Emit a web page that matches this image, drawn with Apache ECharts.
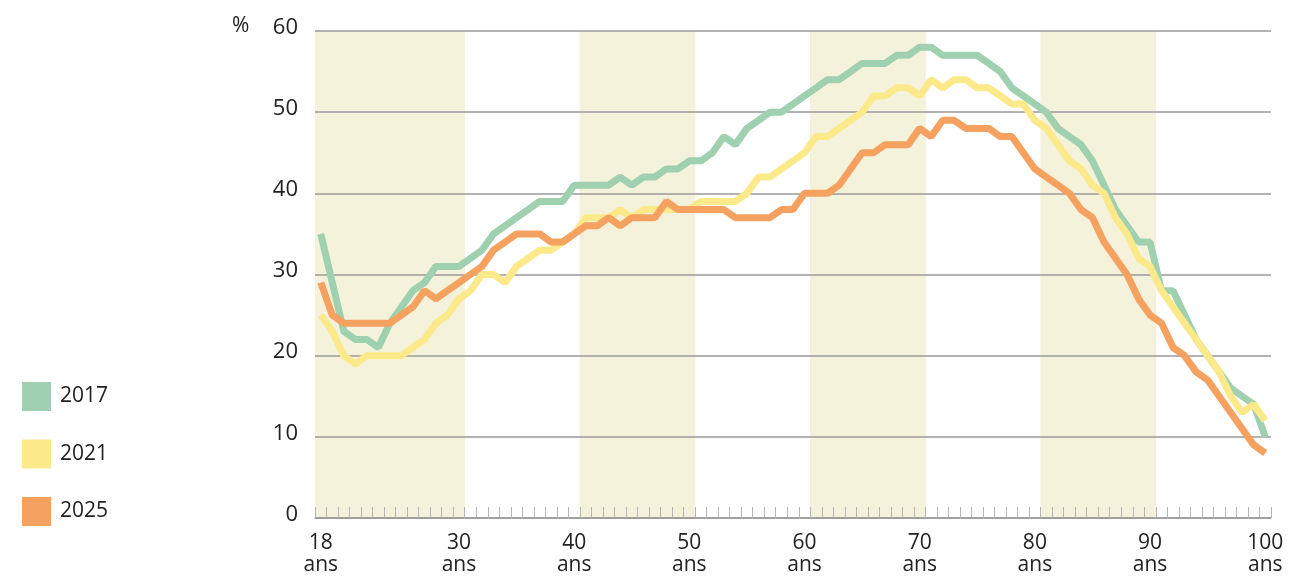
<!DOCTYPE html>
<html>
<head>
<meta charset="utf-8">
<title>Part par âge</title>
<script src="https://cdn.jsdelivr.net/npm/echarts@6/dist/echarts.min.js"></script>
<style>
  html, body { margin: 0; padding: 0; background: #fff; }
  #chart { width: 1297px; height: 576px; }
</style>
</head>
<body>
<div id="chart"></div>
<script>
// ages 18 -> 100, one point per year
const ages = [];
for (let a = 18; a <= 100; a++) ages.push(String(a));

const shownAges = ["18", "30", "40", "50", "60", "70", "80", "90", "100"];
const yTicks = [0, 10, 20, 30, 40, 50, 60];
// shaded decades (inclusive)
const bandRanges = [[18, 30], [41, 50], [61, 70], [81, 90]];

const v2017 = [
  35, 29, 23, 22, 22, 21, 24, 26, 28, 29,   // 18-27
  31, 31, 31, 32, 33, 35, 36, 37, 38, 39,   // 28-37
  39, 39, 41, 41, 41, 41, 42, 41, 42, 42,   // 38-47
  43, 43, 44, 44, 45, 47, 46, 48, 49, 50,   // 48-57
  50, 51, 52, 53, 54, 54, 55, 56, 56, 56,   // 58-67
  57, 57, 58, 58, 57, 57, 57, 57, 56, 55,   // 68-77
  53, 52, 51, 50, 48, 47, 46, 44, 41, 38,   // 78-87
  36, 34, 34, 28, 28, 25, 22, 20, 18, 16,   // 88-97
  15, 14, 10                                // 98-100
];
const v2021 = [
  25, 23, 20, 19, 20, 20, 20, 20, 21, 22,
  24, 25, 27, 28, 30, 30, 29, 31, 32, 33,
  33, 34, 35, 37, 37, 37, 38, 37, 38, 38,
  38, 38, 38, 39, 39, 39, 39, 40, 42, 42,
  43, 44, 45, 47, 47, 48, 49, 50, 52, 52,
  53, 53, 52, 54, 53, 54, 54, 53, 53, 52,
  51, 51, 49, 48, 46, 44, 43, 41, 40, 37,
  35, 32, 31, 28, 26, 24, 22, 20, 18, 15,
  13, 14, 12
];
const v2025 = [
  29, 25, 24, 24, 24, 24, 24, 25, 26, 28,
  27, 28, 29, 30, 31, 33, 34, 35, 35, 35,
  34, 34, 35, 36, 36, 37, 36, 37, 37, 37,
  39, 38, 38, 38, 38, 38, 37, 37, 37, 37,
  38, 38, 40, 40, 40, 41, 43, 45, 45, 46,
  46, 46, 48, 47, 49, 49, 48, 48, 48, 47,
  47, 45, 43, 42, 41, 40, 38, 37, 34, 32,
  30, 27, 25, 24, 21, 20, 18, 17, 15, 13,
  11, 9, 8
];

const seriesNames = ["2017", "2021", "2025"];
const seriesColors = ["#9fd0af", "#fce98a", "#f5a160"];
const seriesValues = [v2017, v2021, v2025];

// background bands as full-height bars on the category axis
const bandData = ages.map(function (a) {
  const n = Number(a);
  const inBand = bandRanges.some(function (r) { return n >= r[0] && n <= r[1]; });
  return inBand ? yTicks[yTicks.length - 1] : null;
});

const textColor = "#222";
const fontFamily = "'Open Sans', sans-serif";

const chart = echarts.init(document.getElementById("chart"));

const lineSeries = seriesNames.map(function (name, i) {
  return {
    name: name,
    type: "line",
    data: seriesValues[i],
    showSymbol: false,
    symbol: "none",
    color: seriesColors[i],
    lineStyle: { width: 7, color: seriesColors[i] },
    z: 3 + i,
    animation: false,
  };
});

chart.setOption({
  animation: false,
  textStyle: { fontFamily: fontFamily },
  grid: { left: 315, right: 26, top: 31, bottom: 57 },
  legend: {
    data: seriesNames,
    orient: "vertical",
    left: 22,
    top: 382,
    padding: 0,
    icon: "rect",
    itemWidth: 29,
    itemHeight: 29,
    itemGap: 28.5,
    textStyle: { fontSize: 21, color: textColor, padding: [0, 0, 0, 4] },
  },
  graphic: [
    {
      type: "text",
      left: 232,
      top: 16,
      style: { text: "%", fontSize: 21, fill: textColor, fontFamily: fontFamily },
    },
  ],
  xAxis: {
    type: "category",
    data: ages,
    boundaryGap: true,
    axisLine: { show: true, lineStyle: { color: "#9a9a9a", width: 1.5 } },
    axisTick: {
      show: true,
      interval: 0,
      inside: true,
      length: 11,
      lineStyle: { color: "#b5b5b5", width: 1 },
    },
    axisLabel: {
      interval: function (idx, val) { return shownAges.indexOf(val) >= 0; },
      formatter: function (val) { return val + "\nans"; },
      fontSize: 21,
      lineHeight: 22,
      color: textColor,
      margin: 14,
    },
    splitLine: { show: false },
  },
  yAxis: {
    type: "value",
    min: 0,
    max: 60,
    interval: 10,
    axisLine: { show: false },
    axisTick: { show: false },
    axisLabel: {
      fontSize: 22,
      color: textColor,
      margin: 17,
      verticalAlign: "bottom",
      lineHeight: 7,
    },
    splitLine: { show: true, lineStyle: { color: "#9a9a9a", width: 1.5 } },
  },
  series: [
    {
      name: "bands",
      type: "bar",
      data: bandData,
      barWidth: 12.2,
      barCategoryGap: "0%",
      itemStyle: { color: "#f5f2dc" },
      silent: true,
      z: -1,
      animation: false,
    },
  ].concat(lineSeries),
});
</script>
</body>
</html>
